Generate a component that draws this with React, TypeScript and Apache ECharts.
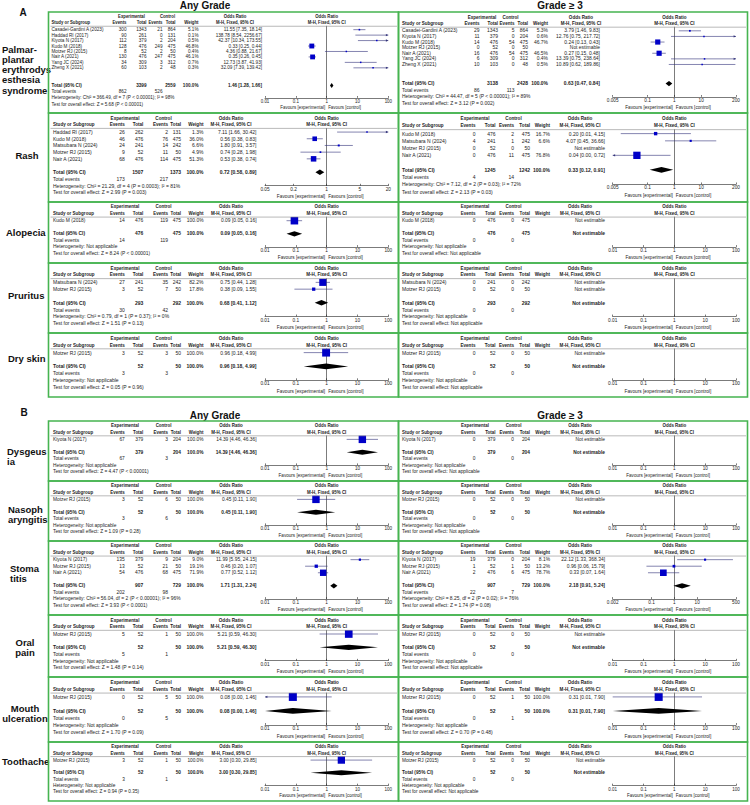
import React, { useEffect, useRef } from "react";
import * as echarts from "echarts";

type Row = [string, number, number, number, number, number | null, number | null, number | null, number | null];
// name, exp events, exp total, ctl events, ctl total, weight %, OR, lower, upper
type Tot = [number, number, number | null, number | null, number | null, number | null, number, number];
// exp total, ctl total, weight %, OR, lower, upper, exp events, ctl events

const ticks01 = [0.01, 0.1, 1, 10, 100];
const ticks005 = [0.005, 0.1, 1, 10, 200];
const ticks05 = [0.05, 0.2, 1, 5, 20];
const ticks002 = [0.002, 0.1, 1, 10, 500];

const NA_TESTS = ["Heterogeneity: Not applicable", "Test for overall effect: Not applicable"];
const NE = [null, null, null, null] as [null, null, null, null];

// ---------- A ----------
const palmarAnyRows: Row[] = [
  ["Casadei-Gardini A (2023)", 300, 1343, 21, 864, 5.1, 11.55, 7.35, 18.14],
  ["Haddad RI (2017)", 90, 261, 0, 131, 0.1, 138.78, 8.54, 2256.67],
  ["Kiyota N (2017)", 112, 379, 2, 204, 0.5, 42.37, 10.34, 173.55],
  ["Kudo M (2018)", 128, 476, 249, 475, 46.8, 0.33, 0.25, 0.44],
  ["Motzer RJ (2015)", 8, 52, 2, 50, 0.4, 4.36, 0.88, 21.67],
  ["Nair A (2021)", 130, 476, 247, 475, 46.1, 0.35, 0.26, 0.45],
  ["Yang JC (2024)", 34, 309, 3, 312, 0.7, 12.73, 3.87, 41.93],
  ["Zheng X (2021)", 60, 103, 2, 48, 0.3, 32.09, 7.39, 139.42],
];
const palmarAnyTotal: Tot = [3399, 2559, 100, 1.46, 1.28, 1.66, 862, 526];
const palmarAnyTests = ["Heterogeneity: Chi² = 366.49, df = 7 (P < 0.00001); I² = 98%", "Test for overall effect: Z = 5.68 (P < 0.00001)"];

const palmarG3Rows: Row[] = [
  ["Casadei-Gardini A (2023)", 29, 1343, 5, 864, 5.3, 3.79, 1.46, 9.83],
  ["Kiyota N (2017)", 11, 379, 0, 204, 0.6, 12.76, 0.75, 217.72],
  ["Kudo M (2018)", 14, 476, 54, 475, 46.7, 0.24, 0.13, 0.43],
  ["Motzer RJ (2015)", 0, 52, 0, 50, ...NE],
  ["Nair A (2021)", 16, 476, 54, 475, 46.5, 0.27, 0.15, 0.48],
  ["Yang JC (2024)", 6, 309, 0, 312, 0.4, 13.39, 0.75, 238.64],
  ["Zheng X (2021)", 10, 103, 0, 48, 0.5, 10.89, 0.62, 189.86],
];
const palmarG3Total: Tot = [3138, 2428, 100, 0.63, 0.47, 0.84, 86, 113];
const palmarG3Tests = ["Heterogeneity: Chi² = 44.47, df = 5 (P < 0.00001); I² = 89%", "Test for overall effect: Z = 3.12 (P = 0.002)"];

const rashAnyRows: Row[] = [
  ["Haddad RI (2017)", 26, 262, 2, 131, 1.3, 7.11, 1.66, 30.42],
  ["Kudo M (2018)", 46, 476, 76, 475, 36.0, 0.56, 0.38, 0.83],
  ["Matsubara N (2024)", 24, 241, 14, 242, 6.6, 1.8, 0.91, 3.57],
  ["Motzer RJ (2015)", 9, 52, 11, 50, 4.9, 0.74, 0.28, 1.98],
  ["Nair A (2021)", 68, 476, 114, 475, 51.3, 0.53, 0.38, 0.74],
];
const rashAnyTotal: Tot = [1507, 1373, 100, 0.72, 0.58, 0.89, 173, 217];
const rashAnyTests = ["Heterogeneity: Chi² = 21.29, df = 4 (P = 0.0003); I² = 81%", "Test for overall effect: Z = 2.99 (P = 0.003)"];

const rashG3Rows: Row[] = [
  ["Kudo M (2018)", 0, 476, 2, 475, 16.7, 0.2, 0.01, 4.15],
  ["Matsubara N (2024)", 4, 241, 1, 242, 6.6, 4.07, 0.45, 36.66],
  ["Motzer RJ (2015)", 0, 52, 0, 50, ...NE],
  ["Nair A (2021)", 0, 476, 11, 475, 76.8, 0.04, 0.0, 0.72],
];
const rashG3Total: Tot = [1245, 1242, 100, 0.33, 0.12, 0.91, 4, 14];
const rashG3Tests = ["Heterogeneity: Chi² = 7.12, df = 2 (P = 0.03); I² = 72%", "Test for overall effect: Z = 2.13 (P = 0.03)"];

const alopeciaAnyRows: Row[] = [["Kudo M (2018)", 14, 476, 119, 475, 100, 0.09, 0.05, 0.16]];
const alopeciaAnyTotal: Tot = [476, 475, 100, 0.09, 0.05, 0.16, 14, 119];
const alopeciaAnyTests = ["Heterogeneity: Not applicable", "Test for overall effect: Z = 8.24 (P < 0.00001)"];
const alopeciaG3Rows: Row[] = [["Kudo M (2018)", 0, 476, 0, 475, ...NE]];
const alopeciaG3Total: Tot = [476, 475, null, null, null, null, 0, 0];

const pruritusAnyRows: Row[] = [
  ["Matsubara N (2024)", 27, 241, 35, 242, 82.2, 0.75, 0.44, 1.28],
  ["Motzer RJ (2015)", 3, 52, 7, 50, 17.8, 0.38, 0.09, 1.55],
];
const pruritusAnyTotal: Tot = [293, 292, 100, 0.68, 0.41, 1.12, 30, 42];
const pruritusAnyTests = ["Heterogeneity: Chi² = 0.79, df = 1 (P = 0.37); I² = 0%", "Test for overall effect: Z = 1.51 (P = 0.13)"];
const pruritusG3Rows: Row[] = [
  ["Matsubara N (2024)", 0, 241, 0, 242, ...NE],
  ["Motzer RJ (2015)", 0, 52, 0, 50, ...NE],
];
const pruritusG3Total: Tot = [293, 292, null, null, null, null, 0, 0];

const drySkinAnyRows: Row[] = [["Motzer RJ (2015)", 3, 52, 3, 50, 100, 0.96, 0.18, 4.99]];
const drySkinAnyTotal: Tot = [52, 50, 100, 0.96, 0.18, 4.99, 3, 3];
const drySkinAnyTests = ["Heterogeneity: Not applicable", "Test for overall effect: Z = 0.05 (P = 0.96)"];
const drySkinG3Rows: Row[] = [["Motzer RJ (2015)", 0, 52, 0, 50, ...NE]];
const drySkinG3Total: Tot = [52, 50, null, null, null, null, 0, 0];

// ---------- B ----------
const dysgeusiaAnyRows: Row[] = [["Kiyota N (2017)", 67, 379, 3, 204, 100, 14.39, 4.46, 46.36]];
const dysgeusiaAnyTotal: Tot = [379, 204, 100, 14.39, 4.46, 46.36, 67, 3];
const dysgeusiaAnyTests = ["Heterogeneity: Not applicable", "Test for overall effect: Z = 4.47 (P < 0.00001)"];
const dysgeusiaG3Rows: Row[] = [["Kiyota N (2017)", 0, 379, 0, 204, ...NE]];
const dysgeusiaG3Total: Tot = [379, 204, null, null, null, null, 0, 0];

const nasoAnyRows: Row[] = [["Motzer RJ (2015)", 3, 52, 6, 50, 100, 0.45, 0.11, 1.9]];
const nasoAnyTotal: Tot = [52, 50, 100, 0.45, 0.11, 1.9, 3, 6];
const nasoAnyTests = ["Heterogeneity: Not applicable", "Test for overall effect: Z = 1.09 (P = 0.28)"];
const nasoG3Rows: Row[] = [["Motzer RJ (2015)", 0, 52, 0, 50, ...NE]];
const nasoG3Total: Tot = [52, 50, null, null, null, null, 0, 0];

const stomAnyRows: Row[] = [
  ["Kiyota N (2017)", 135, 379, 9, 204, 9.0, 11.99, 5.95, 24.15],
  ["Motzer RJ (2015)", 13, 52, 21, 50, 19.1, 0.46, 0.2, 1.07],
  ["Nair A (2021)", 54, 476, 68, 475, 71.9, 0.77, 0.52, 1.12],
];
const stomAnyTotal: Tot = [907, 729, 100, 1.71, 1.31, 2.24, 202, 98];
const stomAnyTests = ["Heterogeneity: Chi² = 56.04, df = 2 (P < 0.00001); I² = 96%", "Test for overall effect: Z = 3.93 (P < 0.0001)"];
const stomG3Rows: Row[] = [
  ["Kiyota N (2017)", 19, 379, 0, 204, 8.1, 22.12, 1.33, 368.34],
  ["Motzer RJ (2015)", 1, 52, 1, 50, 13.2, 0.96, 0.06, 15.79],
  ["Nair A (2021)", 2, 476, 6, 475, 78.7, 0.33, 0.07, 1.64],
];
const stomG3Total: Tot = [907, 729, 100, 2.18, 0.91, 5.24, 22, 7];
const stomG3Tests = ["Heterogeneity: Chi² = 8.25, df = 2 (P = 0.02); I² = 76%", "Test for overall effect: Z = 1.74 (P = 0.08)"];

const oralAnyRows: Row[] = [["Motzer RJ (2015)", 5, 52, 1, 50, 100, 5.21, 0.59, 46.3]];
const oralAnyTotal: Tot = [52, 50, 100, 5.21, 0.59, 46.3, 5, 1];
const oralAnyTests = ["Heterogeneity: Not applicable", "Test for overall effect: Z = 1.48 (P = 0.14)"];
const oralG3Rows: Row[] = [["Motzer RJ (2015)", 0, 52, 0, 50, ...NE]];
const oralG3Total: Tot = [52, 50, null, null, null, null, 0, 0];

const mouthAnyRows: Row[] = [["Motzer RJ (2015)", 0, 52, 5, 50, 100, 0.08, 0.0, 1.46]];
const mouthAnyTotal: Tot = [52, 50, 100, 0.08, 0.0, 1.46, 0, 5];
const mouthAnyTests = ["Heterogeneity: Not applicable", "Test for overall effect: Z = 1.70 (P = 0.09)"];
const mouthG3Rows: Row[] = [["Motzer RJ (2015)", 0, 52, 1, 50, 100, 0.31, 0.01, 7.9]];
const mouthG3Total: Tot = [52, 50, 100, 0.31, 0.01, 7.9, 0, 1];
const mouthG3Tests = ["Heterogeneity: Not applicable", "Test for overall effect: Z = 0.70 (P = 0.48)"];

const toothAnyRows: Row[] = [["Motzer RJ (2015)", 3, 52, 1, 50, 100, 3.0, 0.3, 29.85]];
const toothAnyTotal: Tot = [52, 50, 100, 3.0, 0.3, 29.85, 3, 1];
const toothAnyTests = ["Heterogeneity: Not applicable", "Test for overall effect: Z = 0.94 (P = 0.35)"];
const toothG3Rows: Row[] = [["Motzer RJ (2015)", 0, 52, 0, 50, ...NE]];
const toothG3Total: Tot = [52, 50, null, null, null, null, 0, 0];

const sectionLetters = ["A", "B"];
const columnTitles = ["Any Grade", "Grade ≥ 3"];
const outcomeLabels = [
  ["Palmar-", "plantar", "erythrodys", "esthesia", "syndrome"],
  ["Rash"], ["Alopecia"], ["Pruritus"], ["Dry skin"],
  ["Dysgeus", "ia"], ["Nasoph", "aryngitis"], ["Stoma", "titis"], ["Oral", "pain"], ["Mouth", "ulceration"], ["Toothache"],
];

// layout kinds: 0 = left standard, 1 = right standard, 2 = left wide-table, 3 = right wide-table
const panels = [
  { band: 0, col: 0, kind: 2, rows: palmarAnyRows, total: palmarAnyTotal, tests: palmarAnyTests, ticks: ticks01 },
  { band: 0, col: 1, kind: 3, rows: palmarG3Rows, total: palmarG3Total, tests: palmarG3Tests, ticks: ticks005 },
  { band: 1, col: 0, kind: 0, rows: rashAnyRows, total: rashAnyTotal, tests: rashAnyTests, ticks: ticks05 },
  { band: 1, col: 1, kind: 1, rows: rashG3Rows, total: rashG3Total, tests: rashG3Tests, ticks: ticks005 },
  { band: 2, col: 0, kind: 0, rows: alopeciaAnyRows, total: alopeciaAnyTotal, tests: alopeciaAnyTests, ticks: ticks01 },
  { band: 2, col: 1, kind: 1, rows: alopeciaG3Rows, total: alopeciaG3Total, tests: NA_TESTS, ticks: ticks01 },
  { band: 3, col: 0, kind: 0, rows: pruritusAnyRows, total: pruritusAnyTotal, tests: pruritusAnyTests, ticks: ticks01 },
  { band: 3, col: 1, kind: 1, rows: pruritusG3Rows, total: pruritusG3Total, tests: NA_TESTS, ticks: ticks01 },
  { band: 4, col: 0, kind: 0, rows: drySkinAnyRows, total: drySkinAnyTotal, tests: drySkinAnyTests, ticks: ticks01 },
  { band: 4, col: 1, kind: 1, rows: drySkinG3Rows, total: drySkinG3Total, tests: NA_TESTS, ticks: ticks01 },
  { band: 5, col: 0, kind: 0, rows: dysgeusiaAnyRows, total: dysgeusiaAnyTotal, tests: dysgeusiaAnyTests, ticks: ticks01 },
  { band: 5, col: 1, kind: 1, rows: dysgeusiaG3Rows, total: dysgeusiaG3Total, tests: NA_TESTS, ticks: ticks01 },
  { band: 6, col: 0, kind: 0, rows: nasoAnyRows, total: nasoAnyTotal, tests: nasoAnyTests, ticks: ticks01 },
  { band: 6, col: 1, kind: 1, rows: nasoG3Rows, total: nasoG3Total, tests: NA_TESTS, ticks: ticks01 },
  { band: 7, col: 0, kind: 0, rows: stomAnyRows, total: stomAnyTotal, tests: stomAnyTests, ticks: ticks01 },
  { band: 7, col: 1, kind: 1, rows: stomG3Rows, total: stomG3Total, tests: stomG3Tests, ticks: ticks002 },
  { band: 8, col: 0, kind: 0, rows: oralAnyRows, total: oralAnyTotal, tests: oralAnyTests, ticks: ticks01 },
  { band: 8, col: 1, kind: 1, rows: oralG3Rows, total: oralG3Total, tests: NA_TESTS, ticks: ticks01 },
  { band: 9, col: 0, kind: 0, rows: mouthAnyRows, total: mouthAnyTotal, tests: mouthAnyTests, ticks: ticks01 },
  { band: 9, col: 1, kind: 1, rows: mouthG3Rows, total: mouthG3Total, tests: mouthG3Tests, ticks: ticks01 },
  { band: 10, col: 0, kind: 0, rows: toothAnyRows, total: toothAnyTotal, tests: toothAnyTests, ticks: ticks01 },
  { band: 10, col: 1, kind: 1, rows: toothG3Rows, total: toothG3Total, tests: NA_TESTS, ticks: ticks01 },
];

// ---------- layout ----------
const BANDS: [number, number][] = [
  [12, 113], [113, 202], [202, 263], [263, 333], [333, 397],
  [421, 481], [481, 541], [541, 615], [615, 677], [677, 742], [742, 801],
];
const COL_L = [48.5, 398.5];
const COL_W = [350, 349];
// column x offsets (relative to the box left edge) per layout kind
const COLS = [
  { name: 4.5, ee: 76.3, et: 94.8, ce: 119.5, ct: 132.5, w: 155, or: 208, expH: 76.5, ctlH: 115, orH: 182.5, pl: 216.5, pr: 339.8, sf: 1 },
  { name: 3.5, ee: 77, et: 97, ce: 115.5, ct: 131.5, w: 151.5, or: 206.5, expH: 76.5, ctlH: 115, orH: 181.5, pl: 214.2, pr: 337.5, sf: 1 },
  { name: 3, ee: 78, et: 98, ce: 114, ct: 127, w: 150, or: 213.5, expH: 83, ctlH: 119, orH: 186.5, pl: 216.5, pr: 339.8, sf: 0.88 },
  { name: 3.5, ee: 81, et: 99.5, ce: 116, ct: 129.5, w: 149.5, or: 201.5, expH: 83.5, ctlH: 112, orH: 182.5, pl: 214.2, pr: 337.5, sf: 0.85 },
];
const LABEL_POS: { x: number; y: number; align: string }[] = [
  { x: 2, y: 49, align: "left" },
  { x: 27, y: 155.5, align: "center" },
  { x: 6, y: 232.5, align: "left" },
  { x: 8, y: 295.5, align: "left" },
  { x: 8, y: 358.5, align: "left" },
  { x: 7, y: 451, align: "left" },
  { x: 8, y: 509, align: "left" },
  { x: 10, y: 568.5, align: "left" },
  { x: 25, y: 642, align: "center" },
  { x: 25, y: 708, align: "center" },
  { x: 2, y: 761.5, align: "left" },
];

const GREEN = "#46b450";
const BLUE = "#0000c8";
const WHISKER = "#33337a";
const INK = "#1c1c1c";
const TFONT = '"Liberation Sans", Arial, sans-serif';
const LFONT = '"Liberation Sans", Arial, sans-serif';

const fmtOR = (o: number, l: number, h: number) => `${o.toFixed(2)} [${l.toFixed(2)}, ${h.toFixed(2)}]`;

function buildOption() {
  const grid: any[] = [];
  const xAxis: any[] = [];
  const yAxis: any[] = [];
  const series: any[] = [];
  const g: any[] = [];

  const t = (text: string, x: number, y: number, align: string, size: number, bold = false, family = TFONT, fill = INK, sx = 1) =>
    g.push({
      type: "text", x, y, scaleX: sx, silent: true, z: 5,
      style: { text, fill, fontSize: size, fontWeight: bold ? "bold" : "normal", fontFamily: family, align, verticalAlign: "middle" },
    });

  t(sectionLetters[0], 23, 12.5, "center", 10, true, LFONT, "#111");
  t(sectionLetters[1], 24, 412.5, "center", 10, true, LFONT, "#111");
  t(columnTitles[0], 205, 5.5, "center", 10, true, LFONT, "#111");
  t(columnTitles[1], 560, 5.5, "center", 10, true, LFONT, "#111");
  t(columnTitles[0], 215, 415, "center", 10, true, LFONT, "#111");
  t(columnTitles[1], 560, 415, "center", 10, true, LFONT, "#111");

  outcomeLabels.forEach((lines, i) => {
    const p = LABEL_POS[i];
    const lh = i === 0 ? 10.25 : 10;
    lines.forEach((s, j) => t(s, p.x, p.y + j * lh, p.align, 9.5, true, LFONT, "#111"));
  });

  panels.forEach((p, gi) => {
    const [T, B] = BANDS[p.band];
    const L = COL_L[p.col];
    const W = COL_W[p.col];
    const c = COLS[p.kind];
    const n = p.rows.length;
    const rh = (B - T) / (n + 8.3);
    const y0 = T + 2.85 * rh;
    const ry = (k: number) => y0 + k * rh;
    const fs = Math.min(5.0, rh * 0.75);
    const hs = 0.92;
    const xs = { name: L + c.name, ee: L + c.ee, et: L + c.et, ce: L + c.ce, ct: L + c.ct, w: L + c.w, or: L + c.or, pl: L + c.pl, pr: L + c.pr };
    const pc = (xs.pl + xs.pr) / 2;
    const orC = L + c.orH;

    g.push({ type: "rect", silent: true, z: 20, shape: { x: L, y: T, width: W, height: B - T }, style: { fill: "none", stroke: GREEN, lineWidth: 1.6 } });
    g.push({ type: "line", silent: true, z: 4, shape: { x1: L + 2, y1: ry(-0.55), x2: L + W - 1.5, y2: ry(-0.55) }, style: { stroke: "#8a8a8a", lineWidth: 0.6 } });

    const h1 = ry(-2.1), h2 = ry(-1.1);
    t("Experimental", L + c.expH, h1, "center", fs, true, TFONT, INK, hs);
    t("Control", L + c.ctlH, h1, "center", fs, true, TFONT, INK, hs);
    t("Odds Ratio", orC, h1, "center", fs, true, TFONT, INK, hs);
    t("Odds Ratio", pc, h1, "center", fs, true, TFONT, INK, hs);
    t("Study or Subgroup", xs.name, h2, "left", fs, true, TFONT, INK, hs);
    t("Events", xs.ee, h2, "right", fs, true, TFONT, INK, hs);
    t("Total", xs.et, h2, "right", fs, true, TFONT, INK, hs);
    t("Events", xs.ce, h2, "right", fs, true, TFONT, INK, hs);
    t("Total", xs.ct, h2, "right", fs, true, TFONT, INK, hs);
    t("Weight", xs.w, h2, "right", fs, true, TFONT, INK, hs);
    t("M-H, Fixed, 95% CI", orC, h2, "center", fs, true, TFONT, INK, hs);
    t("M-H, Fixed, 95% CI", pc, h2, "center", fs, true, TFONT, INK, hs);

    const data: number[][] = [];
    p.rows.forEach((r, k) => {
      const kv = k * c.sf;
      const y = ry(kv);
      t(r[0], xs.name, y, "left", fs);
      t(String(r[1]), xs.ee, y, "right", fs);
      t(String(r[2]), xs.et, y, "right", fs);
      t(String(r[3]), xs.ce, y, "right", fs);
      t(String(r[4]), xs.ct, y, "right", fs);
      if (r[5] !== null && r[6] !== null) {
        t(`${(r[5] as number).toFixed(1)}%`, xs.w, y, "right", fs);
        t(fmtOR(r[6] as number, r[7] as number, r[8] as number), xs.or, y, "right", fs);
        data.push([kv, r[6] as number, r[7] as number, r[8] as number, r[5] as number, 0]);
      } else {
        t("Not estimable", xs.or, y, "right", fs);
      }
    });
    const tot = p.total;
    const ty = ry(n + 1);
    t("Total (95% CI)", xs.name, ty, "left", fs, true);
    t(String(tot[0]), xs.et, ty, "right", fs, true);
    t(String(tot[1]), xs.ct, ty, "right", fs, true);
    if (tot[3] !== null) {
      t(`${(tot[2] as number).toFixed(1)}%`, xs.w, ty, "right", fs, true);
      t(fmtOR(tot[3] as number, tot[4] as number, tot[5] as number), xs.or, ty, "right", fs, true);
      data.push([n + 1, tot[3] as number, tot[4] as number, tot[5] as number, 100, 1]);
    } else {
      t("Not estimable", xs.or, ty, "right", fs, true);
    }
    t("Total events", xs.name, ry(n + 2), "left", fs);
    t(String(tot[6]), xs.ee, ry(n + 2), "right", fs);
    t(String(tot[7]), xs.ce, ry(n + 2), "right", fs);
    t(p.tests[0], xs.name, ry(n + 3), "left", fs);
    t(p.tests[1], xs.name, ry(n + 4), "left", fs);
    t("Favours [experimental]", pc - 1.5, ry(n + 4) + 0.6 * rh, "right", fs * 0.95);
    t("Favours [control]", pc + 1.5, ry(n + 4) + 0.6 * rh, "left", fs * 0.95);

    const tickLogs = p.ticks.map((v) => Math.log10(v));
    const xmin = tickLogs[0];
    const xmax = tickLogs[tickLogs.length - 1];
    const yTop = -0.55;
    const yBot = n + 3;
    grid.push({ left: xs.pl, top: ry(yTop), width: xs.pr - xs.pl, height: (yBot - yTop) * rh, containLabel: false, outerBoundsMode: "none" });
    const ticks = p.ticks;
    xAxis.push({
      type: "value", gridIndex: gi, min: xmin, max: xmax,
      axisLine: { show: true, onZero: false, lineStyle: { color: "#222", width: 0.6 } },
      axisTick: { show: true, inside: true, length: 1.8, customValues: tickLogs, lineStyle: { color: "#222", width: 0.6 } },
      axisLabel: {
        show: true, customValues: tickLogs, margin: 1.2, fontSize: fs * 0.95, fontFamily: TFONT, color: INK,
        formatter: (v: number) => {
          let best = ticks[0];
          ticks.forEach((tv) => { if (Math.abs(Math.log10(tv) - v) < Math.abs(Math.log10(best) - v)) best = tv; });
          return String(best);
        },
      },
      splitLine: { show: false },
    });
    yAxis.push({
      type: "value", gridIndex: gi, min: yTop, max: yBot, inverse: true,
      axisLine: { show: true, onZero: true, lineStyle: { color: "#444", width: 0.7 } },
      axisTick: { show: false }, axisLabel: { show: false }, splitLine: { show: false },
    });

    const renderItem = (params: any, api: any) => {
      const k = api.value(0), or = api.value(1), lo = api.value(2), hi = api.value(3), w = api.value(4), kind = api.value(5);
      const lg = (v: number) => Math.log10(Math.max(v, 1e-12));
      const cl = (v: number) => Math.min(xmax, Math.max(xmin, lg(v)));
      const pO = api.coord([cl(or), k]);
      const pL = api.coord([cl(lo), k]);
      const pH = api.coord([cl(hi), k]);
      const y = pO[1];
      const children: any[] = [];
      if (kind === 1) {
        const h = rh * 0.8;
        children.push({ type: "polygon", shape: { points: [[pL[0], y], [pO[0], y - h / 2], [pH[0], y], [pO[0], y + h / 2]] }, style: { fill: "#000" } });
      } else {
        children.push({ type: "line", shape: { x1: pL[0], y1: y, x2: pH[0], y2: y }, style: { stroke: WHISKER, lineWidth: 0.6 } });
        if (lg(lo) < xmin - 1e-9) children.push({ type: "polygon", shape: { points: [[pL[0], y], [pL[0] + 2.4, y - 1.2], [pL[0] + 2.4, y + 1.2]] }, style: { fill: WHISKER } });
        if (lg(hi) > xmax + 1e-9) children.push({ type: "polygon", shape: { points: [[pH[0], y], [pH[0] - 2.4, y - 1.2], [pH[0] - 2.4, y + 1.2]] }, style: { fill: WHISKER } });
        if (lg(or) >= xmin && lg(or) <= xmax) {
          const s = Math.max(1.5, rh * 1.15 * Math.sqrt(w / 100));
          children.push({ type: "rect", shape: { x: pO[0] - s / 2, y: y - s / 2, width: s, height: s }, style: { fill: BLUE } });
        }
      }
      return { type: "group", children };
    };

    series.push({
      type: "custom", xAxisIndex: gi, yAxisIndex: gi, clip: false, silent: true,
      encode: { x: 1, y: 0 }, data, renderItem,
    });
  });

  return { animation: false, backgroundColor: "#ffffff", grid, xAxis, yAxis, series, graphic: { elements: g } };
}

export default function App() {
  const ref = useRef<HTMLDivElement>(null);
  useEffect(() => {
    if (!ref.current) return;
    const chart = echarts.init(ref.current, undefined, { renderer: "svg" });
    chart.setOption(buildOption() as any);
    return () => chart.dispose();
  }, []);
  return <div ref={ref} style={{ position: "absolute", left: 0, top: 0, width: 750, height: 805, background: "#fff" }} />;
}
